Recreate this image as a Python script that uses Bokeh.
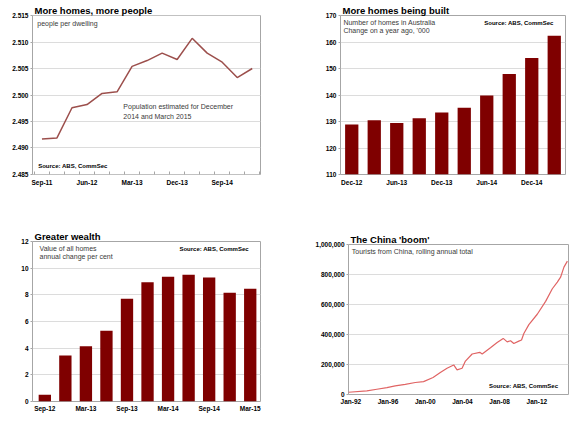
from bokeh.plotting import figure
from bokeh.models import Range1d, FixedTicker, NumeralTickFormatter, Label
from bokeh.layouts import column, row
from bokeh.embed import file_html
from bokeh.resources import INLINE

FONT = "Liberation Sans"

# ---- Panel 1: people per dwelling ----
ppd_quarters = ["Sep-11", "Dec-11", "Mar-12", "Jun-12", "Sep-12", "Dec-12", "Mar-13", "Jun-13",
                "Sep-13", "Dec-13", "Mar-14", "Jun-14", "Sep-14", "Dec-14", "Mar-15"]
ppd_values = [2.4917, 2.4919, 2.4976, 2.4982, 2.5003, 2.5006, 2.5054, 2.5065,
              2.5079, 2.5067, 2.5107, 2.5079, 2.5062, 2.5033, 2.5050]

# ---- Panel 2: homes being built ('000, change on a year ago) ----
built_quarters = ["Dec-12", "Mar-13", "Jun-13", "Sep-13", "Dec-13", "Mar-14", "Jun-14",
                  "Sep-14", "Dec-14", "Mar-15"]
built_values = [128.9, 130.5, 129.4, 131.2, 133.4, 135.2, 139.8, 147.9, 154.0, 162.4]

# ---- Panel 3: value of all homes, annual % change ----
wealth_quarters = ["Sep-12", "Dec-12", "Mar-13", "Jun-13", "Sep-13", "Dec-13", "Mar-14",
                   "Jun-14", "Sep-14", "Dec-14", "Mar-15"]
wealth_values = [0.5, 3.45, 4.15, 5.3, 7.7, 8.95, 9.35, 9.5, 9.3, 8.15, 8.45]

# ---- Panel 4: tourists from China, rolling annual total ----
china_year = [1991.75, 1993.72, 1994.8, 1995.88, 1996.77, 1997.85, 1998.93, 1999.82, 2000.84,
              2001.62, 2002.34, 2003.06, 2003.42, 2003.96, 2004.32, 2005.04, 2005.86, 2006.12,
              2007.01, 2007.73, 2008.38, 2008.81, 2009.17, 2009.52, 2010.06, 2010.35, 2010.6,
              2011.14, 2012.04, 2012.94, 2013.66, 2014.2, 2014.55, 2014.91, 2015.28]
china_tourists = [15000, 24000, 35000, 46000, 57000, 68000, 80000, 86000, 113000,
                  146000, 175000, 197000, 164000, 175000, 223000, 270000, 281000, 270000,
                  312000, 347000, 374000, 351000, 358000, 340000, 356000, 363000, 407000,
                  466000, 535000, 621000, 705000, 749000, 782000, 849000, 889000]
china_tick_years = [1992, 1996, 2000, 2004, 2008, 2012]
china_tick_labels = ["Jan-92", "Jan-96", "Jan-00", "Jan-04", "Jan-08", "Jan-12"]

BAR = "#7f0000"
GRID = "#dcdcdc"
FRAME = "#a6a6a6"


def base(title, w, h, xr, yr, bl, br, bt, bb):
    p = figure(width=w, height=h, x_range=xr, y_range=yr, output_backend="svg",
               toolbar_location=None, title=title,
               min_border_left=bl, min_border_right=br, min_border_top=bt, min_border_bottom=bb)
    p.title.text_font = FONT
    p.title.text_font_size = "9.5px"
    p.title.text_font_style = "bold"
    p.title.text_color = "#000000"
    p.title.offset = 2
    p.title.standoff = 0
    p.outline_line_color = FRAME
    p.outline_line_width = 1
    p.xgrid.grid_line_color = None
    p.ygrid.grid_line_color = GRID
    p.background_fill_color = "white"
    p.border_fill_color = "white"
    for ax in p.axis:
        ax.axis_line_color = None
        ax.major_label_text_font = FONT
        ax.major_label_text_font_size = "6.5px"
        ax.major_label_text_font_style = "bold"
        ax.major_label_text_color = "#000000"
        ax.minor_tick_line_color = None
        ax.axis_label_standoff = 0
    p.yaxis.major_tick_out = 2
    p.yaxis.major_tick_in = 0
    p.yaxis.major_tick_line_color = FRAME
    p.yaxis.major_label_standoff = 2
    p.xaxis.major_tick_out = 0
    p.xaxis.major_tick_in = 0
    p.xaxis.major_label_standoff = 4
    return p


def note(p, x, y, text, size="7px", bold=False, align="left", color="#3a3a3a"):
    p.add_layout(Label(x=x, y=y, text=text, text_font=FONT, text_font_size=size,
                       text_font_style="bold" if bold else "normal", text_color=color,
                       text_align=align, text_baseline="middle"))


# Panel 1
x1 = list(range(len(ppd_quarters)))
p1 = base("More homes, more people", 290, 212, Range1d(-0.63, 14.55), Range1d(2.48499, 2.51501),
          32, 30, 15, 38)
p1.line(x1, ppd_values, line_color="#9c4f4c", line_width=1.5)
p1.yaxis.ticker = FixedTicker(ticks=[2.485, 2.49, 2.495, 2.5, 2.505, 2.51, 2.515])
p1.yaxis.formatter = NumeralTickFormatter(format="0.000")
p1.xaxis.ticker = FixedTicker(ticks=x1[::3], minor_ticks=[i - 0.5 for i in x1] + [14.5])
p1.xaxis.major_label_overrides = {i: ppd_quarters[i] for i in x1[::3]}
p1.xaxis.minor_tick_line_color = FRAME
p1.xaxis.minor_tick_in = 3
p1.xaxis.minor_tick_out = 0
note(p1, -0.31, 2.5135, "people per dwelling")
note(p1, 5.42, 2.4978, "Population estimated for December")
note(p1, 5.42, 2.4960, "2014 and March 2015")
note(p1, -0.25, 2.4866, "Source: ABS, CommSec", size="6px", bold=True, color="#000000")

# Panel 2
x2 = list(range(len(built_quarters)))
p2 = base("More homes being built", 290, 212, Range1d(-0.5, 9.5), Range1d(110, 170),
          50, 15, 15, 38)
p2.vbar(x=x2, top=built_values, bottom=110, width=0.59, fill_color=BAR, line_color=None)
p2.yaxis.ticker = FixedTicker(ticks=[110, 120, 130, 140, 150, 160, 170])
p2.xaxis.ticker = FixedTicker(ticks=x2[::2])
p2.xaxis.major_label_overrides = {i: built_quarters[i] for i in x2[::2]}
note(p2, -0.37, 167.5, "Number of homes in Australia")
note(p2, -0.37, 164.5, "Change on a year ago, '000")
note(p2, 8.97, 167.2, "Source: ABS, CommSec", size="6px", bold=True, align="right", color="#000000")

# Panel 3
x3 = list(range(len(wealth_quarters)))
p3 = base("Greater wealth", 290, 213, Range1d(-0.6, 10.5), Range1d(0, 12), 32, 30, 29, 24)
p3.vbar(x=x3, top=wealth_values, bottom=0, width=0.6, fill_color=BAR, line_color=None)
p3.yaxis.ticker = FixedTicker(ticks=[0, 2, 4, 6, 8, 10, 12])
p3.xaxis.ticker = FixedTicker(ticks=x3[::2])
p3.xaxis.major_label_overrides = {i: wealth_quarters[i] for i in x3[::2]}
p3.xaxis.major_label_standoff = 3
note(p3, -0.26, 11.47, "Value of all homes")
note(p3, -0.26, 10.87, "annual change per cent")
note(p3, 9.93, 11.45, "Source: ABS, CommSec", size="6px", bold=True, align="right", color="#000000")

# Panel 4
p4 = base("The China 'boom'", 290, 213, Range1d(1991.75, 2015.4), Range1d(0, 1000000),
          58, 12, 32, 31)
p4.line(china_year, china_tourists, line_color="#e06464", line_width=1.2)
p4.yaxis.ticker = FixedTicker(ticks=[0, 200000, 400000, 600000, 800000, 1000000])
p4.yaxis.formatter = NumeralTickFormatter(format="0,0")
p4.xaxis.ticker = FixedTicker(ticks=china_tick_years)
p4.xaxis.major_label_overrides = dict(zip(china_tick_years, china_tick_labels))
p4.xaxis.major_label_standoff = 3
note(p4, 1992.1, 951000, "Tourists from China, rolling annual total")
note(p4, 2014.3, 58000, "Source: ABS, CommSec", size="6px", bold=True, align="right", color="#000000")

layout = column(row(column(p1), column(p2)), row(column(p3), column(p4)))
open("out.html", "w").write(file_html(layout, INLINE))
